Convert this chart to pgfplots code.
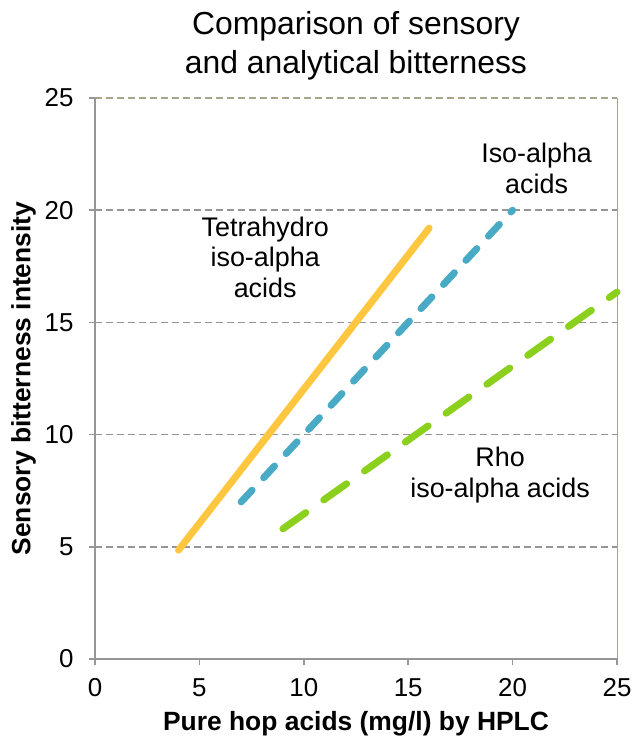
\documentclass[border=0pt]{standalone}
\usepackage{fontspec}
\setmainfont{Liberation Sans}
\usepackage{pgfplots}
\pgfplotsset{compat=1.18}
\definecolor{thc}{RGB}{255,198,64}
\definecolor{isoc}{RGB}{72,170,196}
\definecolor{rhoc}{RGB}{140,208,30}
\definecolor{gridc}{RGB}{150,150,150}
\definecolor{borderc}{RGB}{165,165,140}
\begin{document}
\begin{tikzpicture}[x=1bp,y=1bp]
\path[use as bounding box] (-95,-83) rectangle (538,659);
\begin{axis}[
  at={(0,0)}, anchor=south west,
  scale only axis, width=522bp, height=561bp,
  xmin=0, xmax=25, ymin=0, ymax=25,
  xtick={0,5,...,25}, ytick={0,5,...,25},
  /pgf/number format/assume math mode=true,
  tick label style={font=\fontsize{26}{30}\selectfont, text=black},
  xticklabel style={yshift=-10bp},
  yticklabel style={xshift=-12bp},
  axis line style={draw=none},
  tick style={gridc, line width=1.5bp},
  tick align=outside, major tick length=6bp,
  xtick pos=bottom, ytick pos=left,
  ymajorgrids, grid style={gridc, line width=1.5bp, dash pattern=on 7bp off 4bp},
  clip=false,
  title={Comparison of sensory\\and analytical bitterness},
  title style={font=\fontsize{32}{40}\selectfont, align=center, yshift=8bp},
  xlabel={\textbf{Pure hop acids (mg/l) by HPLC}},
  ylabel={\textbf{Sensory bitterness intensity}},
  label style={font=\fontsize{26.5}{30}\selectfont},
  xlabel style={yshift=-8bp},
  ylabel style={yshift=2bp},
]
% frame
\draw[borderc, line width=1bp] (axis cs:25,0) -- (axis cs:25,25);
\draw[borderc, line width=1.5bp, dash pattern=on 7bp off 4bp] (axis cs:0,25) -- (axis cs:25,25);
\draw[gridc, line width=2.5bp] (axis cs:0,0) -- (axis cs:0,25);
\draw[gridc, line width=2.5bp] (axis cs:0,0) -- (axis cs:25,0);
% data
\addplot[thc, line width=7bp, line cap=round] coordinates {(4,4.85) (16,19.2)};
\addplot[isoc, line width=7bp, line cap=round, dash pattern=on 16bp off 17bp] coordinates {(7,7) (20,20)};
\addplot[rhoc, line width=7bp, line cap=round, dash pattern=on 28bp off 22bp] coordinates {(9,5.8) (25,16.35)};
% labels
\node[align=center, font=\fontsize{27}{31}\selectfont] at (axis cs:8.15,17.9) {Tetrahydro\\iso-alpha\\acids};
\node[align=center, font=\fontsize{27}{31}\selectfont] at (axis cs:21.15,21.85) {Iso-alpha\\acids};
\node[align=center, font=\fontsize{27}{31}\selectfont] at (axis cs:19.4,8.2) {Rho\\iso-alpha acids};
\end{axis}
\end{tikzpicture}
\end{document}
